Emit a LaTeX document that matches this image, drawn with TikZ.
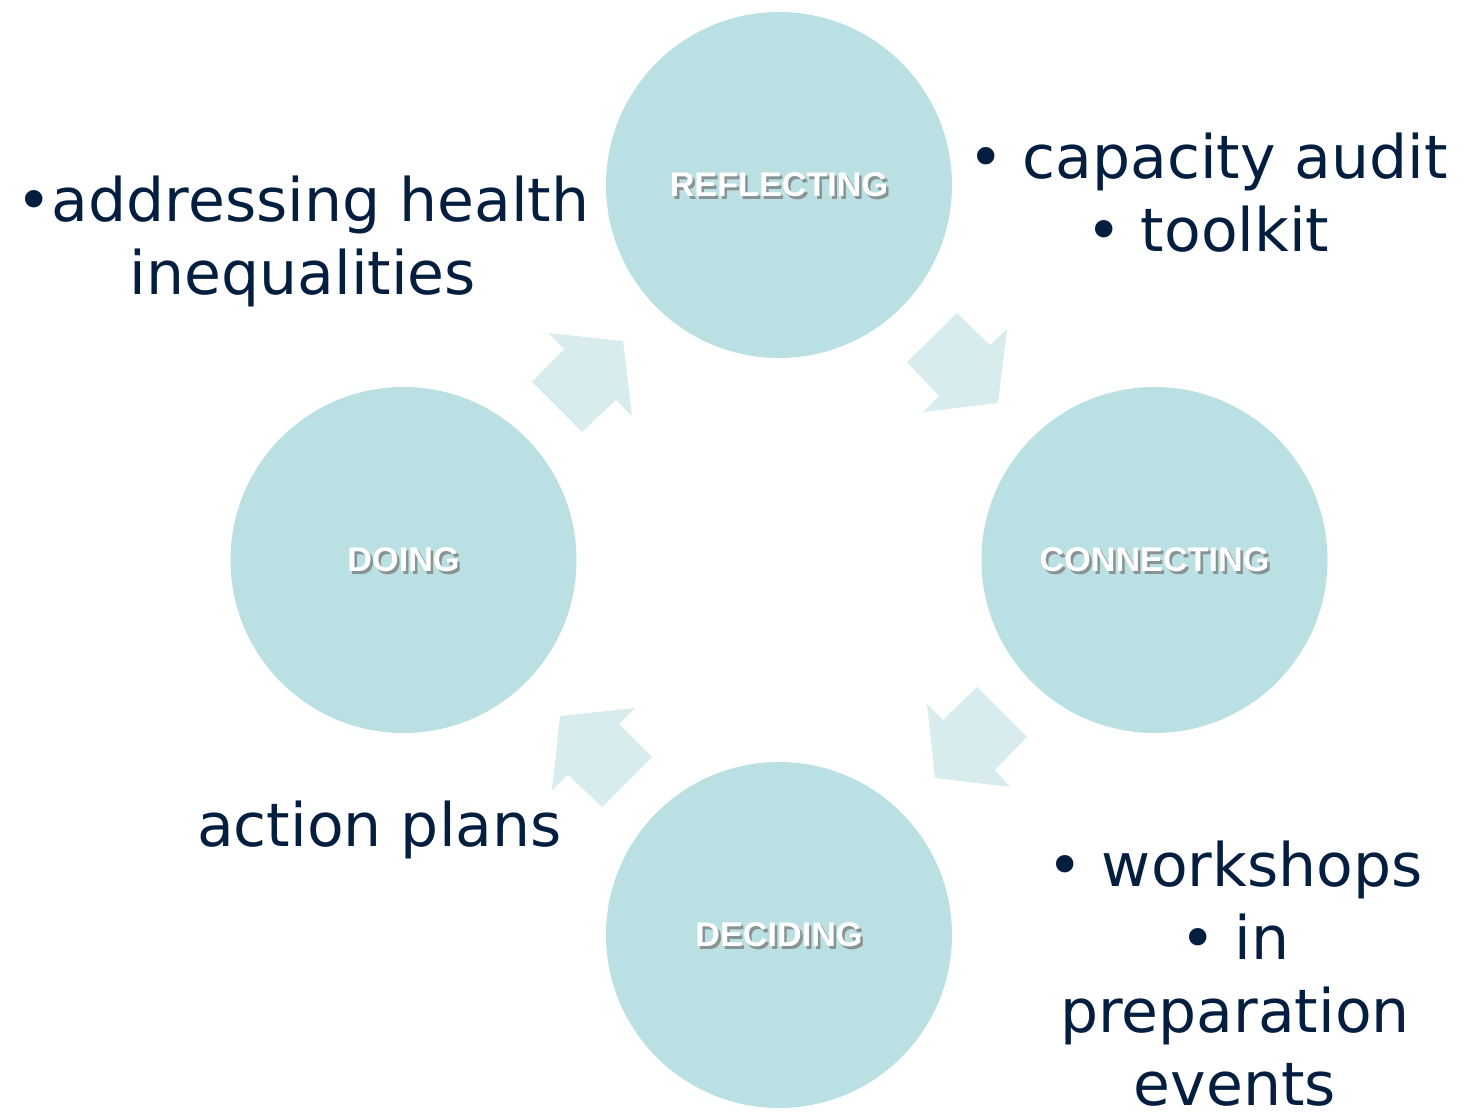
\documentclass[tikz,border=0pt]{standalone}
\usepackage{fontspec}
\newfontfamily\lblfont{DejaVu Sans}
\newfontfamily\circfont{Liberation Sans}
\definecolor{circfill}{RGB}{187,224,227}
\definecolor{arrowfill}{RGB}{216,236,238}
\definecolor{navytext}{RGB}{4,30,64}
\tikzset{
  stage/.style={circle, fill=circfill, minimum size=173pt, inner sep=0pt},
  stagelabel/.style={font=\circfont\bfseries\fontsize{17.1pt}{19pt}\selectfont, text=white},
  stageshadow/.style={font=\circfont\bfseries\fontsize{17.1pt}{19pt}\selectfont, text=black!55, opacity=0.7},
  note/.style={font=\lblfont\fontsize{30pt}{36.5pt}\selectfont, text=navytext, align=center, anchor=base, inner sep=0pt},
  arrowshape/.style={fill=arrowfill}
}
\begin{document}
\begin{tikzpicture}[x=0.5pt, y=-0.5pt]
\useasboundingbox (0,0) rectangle (1468,1112);
% circles
\node[stage] (refl) at (779,185) {};
\node[stage] (conn) at (1154.5,560) {};
\node[stage] (doing) at (403.5,560) {};
\node[stage] (decid) at (779,935) {};
% circle labels with shadow
\node[stageshadow] (reflS) at ([shift={(2.5,2.5)}]refl.center) {REFLECTING};
\node[stagelabel] (reflL) at (refl.center) {REFLECTING};
\node[stageshadow] (connS) at ([shift={(2.5,2.5)}]conn.center) {CONNECTING};
\node[stagelabel] (connL) at (conn.center) {CONNECTING};
\node[stageshadow] (doingS) at ([shift={(2.5,2.5)}]doing.center) {DOING};
\node[stagelabel] (doingL) at (doing.center) {DOING};
\node[stageshadow] (decidS) at ([shift={(2.5,2.5)}]decid.center) {DECIDING};
\node[stagelabel] (decidL) at (decid.center) {DECIDING};
% block arrows
\fill[arrowshape] (907,362) -- (957,313) -- (990,345) -- (1007,329) -- (998,403) -- (923,412) -- (939,396) -- cycle;
\fill[arrowshape] (1027,737) -- (995,770) -- (1010,787) -- (935,778) -- (927,704) -- (943,720) -- (977,687) -- cycle;
\fill[arrowshape] (602,807) -- (568,775) -- (552,790) -- (560,716) -- (635,708) -- (619,724) -- (652,757) -- cycle;
\fill[arrowshape] (532,382) -- (564,349) -- (548,333) -- (623,341) -- (632,416) -- (616,400) -- (582,432) -- cycle;
% notes (anchor base = baseline of last line)
\node[note] (noteRefl) at (303,295) {\textbullet addressing health\\inequalities};
\node[note] (noteConn) at (1208,252) {\textbullet{} capacity audit\\\textbullet{} toolkit};
\node[note] (noteDoing) at (379.5,846) {action plans};
\node[note] (noteDecid) at (1235,1105) {\textbullet{} workshops\\\textbullet{} in\\preparation\\events};
\end{tikzpicture}
\end{document}
